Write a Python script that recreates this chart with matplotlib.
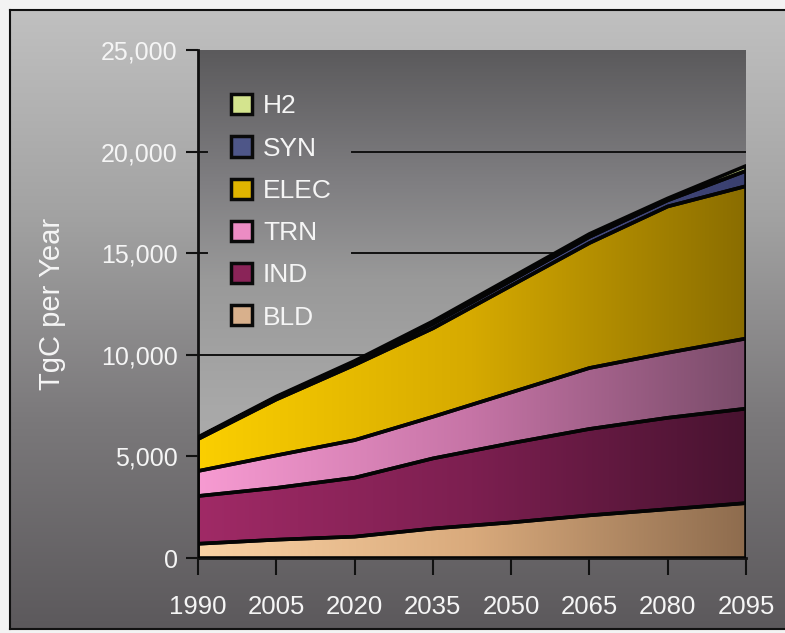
import numpy as np
import matplotlib
matplotlib.use("Agg")
import matplotlib.pyplot as plt
from matplotlib.colors import LinearSegmentedColormap
from matplotlib.patches import Polygon, Patch
from matplotlib.ticker import FuncFormatter

plt.rcParams["font.family"] = ["Liberation Sans", "DejaVu Sans"]

# Carbon emissions by end-use sector, TgC per year
years = [1990, 2005, 2020, 2035, 2050, 2065, 2080, 2095]
bld = [700, 900, 1050, 1450, 1750, 2100, 2400, 2700]
ind = [2350, 2550, 2900, 3450, 3900, 4250, 4500, 4650]
trn = [1230, 1600, 1850, 2050, 2500, 3000, 3200, 3450]
elec = [1570, 2750, 3700, 4350, 5250, 6150, 7200, 7500]
syn = [60, 100, 140, 220, 250, 300, 300, 750]
h2 = [40, 50, 60, 130, 150, 150, 100, 250]
sector_labels = ["BLD", "IND", "TRN", "ELEC", "SYN", "H2"]
y_ticks = [0, 5000, 10000, 15000, 20000, 25000]

# left -> right shading for each band
shades = {
    "BLD": ("#fad2a4", "#d9aa7c", "#8e6c4e"),
    "IND": ("#a02a66", "#7c1f50", "#481330"),
    "TRN": ("#f79bd2", "#c674a6", "#7a4c6a"),
    "ELEC": ("#fbcf00", "#d6aa00", "#8a6d00"),
    "SYN": ("#565e98", "#4a5088", "#3a4070"),
    "H2": ("#dcec96", "#c8d888", "#a8b870"),
}
legend_face = {
    "BLD": "#d8b08c", "IND": "#8a2458", "TRN": "#ec8cc4",
    "ELEC": "#e0b400", "SYN": "#4e5688", "H2": "#d4e48e",
}

W, H = 785, 633
fig = plt.figure(figsize=(W / 100, H / 100), dpi=100)
fig.patch.set_facecolor("#f3f3f3")

# framed gradient backdrop
bg = fig.add_axes([10 / W, 4 / H, 1.0, (629 - 10) / H])
bg_cmap = LinearSegmentedColormap.from_list(
    "bg", ["#5c595c", "#7a787a", "#a2a2a2", "#c0c0c0"])
bg.imshow(np.linspace(0, 1, 256)[:, None], cmap=bg_cmap, aspect="auto",
          extent=[0, 1, 0, 1], origin="lower")
bg.set_xticks([])
bg.set_yticks([])
for s in bg.spines.values():
    s.set_color("#111111")
    s.set_linewidth(1.5)

ax = fig.add_axes([198 / W, 75 / H, 548 / W, 508 / H])
ax.set_xlim(years[0], years[-1])
ax.set_ylim(0, 25000)
ax.patch.set_visible(False)

plot_cmap = LinearSegmentedColormap.from_list(
    "plotbg", [(0, "#b2b2b2"), (0.3, "#a8a8a8"), (0.55, "#999999"),
               (0.75, "#7e7d80"), (1, "#5b5a5c")])
ax.imshow(np.linspace(0, 1, 256)[:, None], cmap=plot_cmap, aspect="auto",
          extent=[years[0], years[-1], 0, 25000], origin="lower", zorder=0)

# horizontal grid lines, interrupted where the legend sits
for val in y_ticks[1:-1]:
    if val >= 15000:
        ax.axhline(val, xmin=0, xmax=0.016, color="#111111", lw=1.4, zorder=1)
        ax.axhline(val, xmin=0.281, xmax=1, color="#111111", lw=1.4, zorder=1)
    else:
        ax.axhline(val, color="#111111", lw=1.4, zorder=1)

x = np.array(years, dtype=float)
series = [bld, ind, trn, elec, syn, h2]
lower = np.zeros(len(years))
for name, vals in zip(sector_labels, series):
    upper = lower + np.array(vals, dtype=float)
    verts = np.concatenate([np.c_[x, upper], np.c_[x[::-1], lower[::-1]]])
    cmap = LinearSegmentedColormap.from_list(name, list(shades[name]))
    im = ax.imshow(np.linspace(0, 1, 256)[None, :], cmap=cmap, aspect="auto",
                   extent=[years[0], years[-1], 0, 25000], origin="lower",
                   zorder=2)
    clip = Polygon(verts, closed=True, facecolor="none", edgecolor="none",
                   transform=ax.transData)
    ax.add_patch(clip)
    im.set_clip_path(clip)
    ax.add_patch(Polygon(verts, closed=True, facecolor="none",
                         edgecolor="#050505", lw=2.6, zorder=3,
                         joinstyle="round"))
    lower = upper

ax.set_xticks(years)
ax.set_yticks(y_ticks)
ax.yaxis.set_major_formatter(FuncFormatter(lambda v, p: f"{int(v):,}"))
ax.tick_params(axis="x", length=12, width=1.5, color="#111111", pad=15,
               labelsize=18.5, labelcolor="#f5f5f5")
ax.tick_params(axis="y", length=9, width=1.5, color="#111111", pad=5.5,
               labelsize=18, labelcolor="#f5f5f5")
for side in ("top", "right"):
    ax.spines[side].set_visible(False)
for side in ("left", "bottom"):
    ax.spines[side].set_color("#111111")
    ax.spines[side].set_linewidth(2)
ax.set_ylabel("TgC per Year", color="#f5f5f5", fontsize=21)
ax.yaxis.set_label_coords(-0.24, 0.5)

handles = [Patch(facecolor=legend_face[n], edgecolor="#0a0a0a", linewidth=2.5)
           for n in reversed(sector_labels)]
leg = ax.legend(handles, list(reversed(sector_labels)), loc="upper left",
                bbox_to_anchor=(0.06, 0.913), frameon=False, fontsize=19,
                handlelength=0.8, handleheight=0.8, handletextpad=0.42,
                labelspacing=0.68, borderpad=0, borderaxespad=0)
for t in leg.get_texts():
    t.set_color("#f5f5f5")
leg.set_zorder(5)

fig.savefig("out.png", dpi=100, facecolor=fig.get_facecolor())
